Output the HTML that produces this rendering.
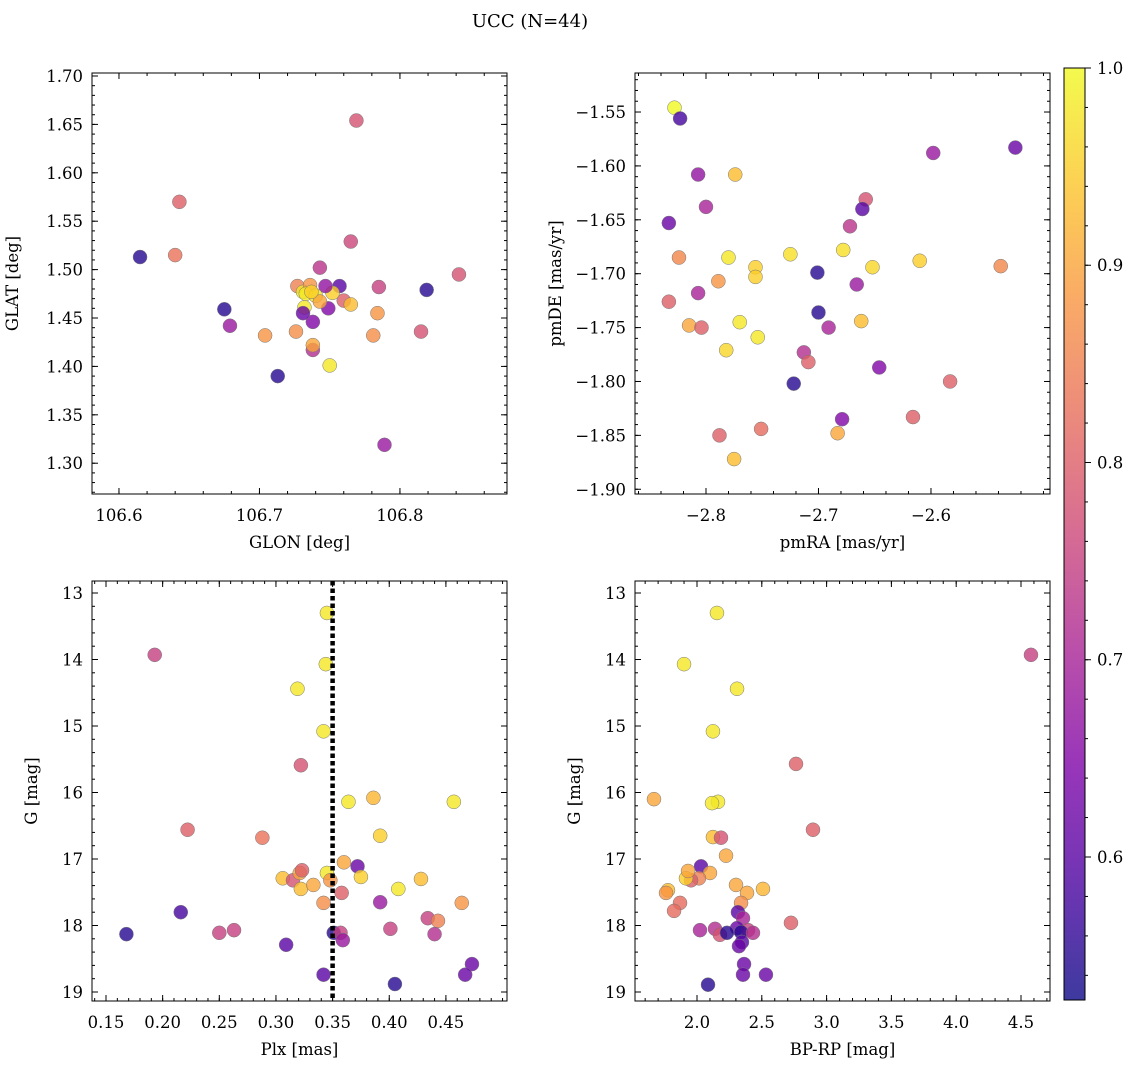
<!DOCTYPE html>
<html><head><meta charset="utf-8"><style>
body{margin:0;background:#fff;}
svg{display:block;font-family:"DejaVu Serif","Liberation Serif",serif;}
</style></head><body>
<svg id="fig" width="1136" height="1068" viewBox="0 0 1136 1068">
<text x="530" y="27" font-size="18" text-anchor="middle">UCC (N=44)</text>
</svg>
<script>
// Panel 1: GLON vs GLAT
const glon1 = [106.615,106.643,106.640,106.769,106.675,106.679,106.704,106.713,106.726,106.743,106.765,106.842,106.819,106.789,106.815,106.785,106.784,106.781,106.750,106.738,106.738,106.757,106.760,106.765,106.752,106.749,106.747,106.738,106.727,106.731,106.736,106.733,106.740,106.732,106.743,106.737,106.731];
const glat1 = [1.513,1.570,1.515,1.654,1.459,1.442,1.432,1.390,1.436,1.502,1.529,1.495,1.479,1.319,1.436,1.482,1.455,1.432,1.401,1.417,1.422,1.483,1.468,1.464,1.476,1.460,1.483,1.446,1.483,1.477,1.484,1.475,1.473,1.461,1.467,1.477,1.455];
const c1 = [0.55,0.80,0.83,0.78,0.55,0.68,0.88,0.55,0.87,0.73,0.76,0.78,0.55,0.68,0.78,0.75,0.88,0.87,0.98,0.72,0.90,0.60,0.80,0.93,0.95,0.65,0.67,0.65,0.85,0.98,0.88,0.98,0.98,0.98,0.90,0.95,0.62];
// Panel 2: pmRA vs pmDE
const pmra2 = [-2.828,-2.823,-2.833,-2.807,-2.800,-2.824,-2.833,-2.815,-2.807,-2.804,-2.789,-2.774,-2.780,-2.770,-2.756,-2.756,-2.782,-2.788,-2.775,-2.751,-2.754,-2.725,-2.713,-2.709,-2.701,-2.700,-2.722,-2.691,-2.678,-2.672,-2.666,-2.658,-2.661,-2.652,-2.662,-2.646,-2.679,-2.683,-2.616,-2.610,-2.598,-2.583,-2.538,-2.525];
const pmde2 = [-1.546,-1.556,-1.653,-1.608,-1.638,-1.685,-1.726,-1.748,-1.718,-1.750,-1.707,-1.608,-1.685,-1.745,-1.694,-1.703,-1.771,-1.850,-1.872,-1.844,-1.759,-1.682,-1.773,-1.782,-1.699,-1.736,-1.802,-1.750,-1.678,-1.656,-1.710,-1.631,-1.640,-1.694,-1.744,-1.787,-1.835,-1.848,-1.833,-1.688,-1.588,-1.800,-1.693,-1.583];
const c2 = [1.0,0.58,0.62,0.67,0.70,0.86,0.80,0.90,0.70,0.80,0.88,0.93,0.98,0.98,0.95,0.95,0.96,0.80,0.93,0.82,0.98,0.97,0.72,0.80,0.55,0.55,0.55,0.70,0.97,0.73,0.68,0.78,0.60,0.96,0.93,0.65,0.65,0.90,0.80,0.95,0.68,0.80,0.86,0.62];
// Panel 3: Plx vs G
const plx3 = [0.193,0.222,0.288,0.216,0.168,0.250,0.263,0.309,0.306,0.315,0.321,0.322,0.333,0.323,0.319,0.322,0.344,0.345,0.342,0.342,0.342,0.345,0.348,0.351,0.357,0.359,0.358,0.364,0.360,0.372,0.375,0.386,0.392,0.392,0.401,0.408,0.405,0.428,0.434,0.443,0.440,0.457,0.464,0.473,0.467];
const g3 = [13.93,16.56,16.68,17.80,18.13,18.11,18.07,18.29,17.29,17.32,17.21,17.45,17.39,17.17,14.44,15.59,14.07,13.30,15.08,17.66,18.74,17.21,17.32,18.11,18.11,18.22,17.51,16.14,17.05,17.11,17.27,16.08,16.65,17.65,18.05,17.45,18.88,17.30,17.89,17.93,18.13,16.14,17.66,18.58,18.74];
const c3 = [0.75,0.80,0.83,0.58,0.55,0.75,0.75,0.60,0.93,0.78,0.90,0.93,0.90,0.80,0.98,0.78,0.98,0.98,0.98,0.87,0.60,0.98,0.88,0.55,0.75,0.68,0.80,0.98,0.90,0.62,0.95,0.92,0.95,0.68,0.75,0.98,0.55,0.93,0.75,0.85,0.72,0.98,0.88,0.62,0.62];
const plxLine = [0.35];
// Panel 4: BP-RP vs G
const bprp4 = [2.154,1.900,2.309,1.668,4.577,2.764,2.895,2.123,2.162,2.116,2.123,2.185,2.224,2.031,2.100,2.015,1.954,1.915,1.776,1.761,1.869,1.823,1.931,2.301,2.509,2.386,2.340,2.316,2.355,2.309,2.139,2.394,2.177,2.231,2.340,2.347,2.324,2.432,2.363,2.355,2.532,2.725,2.023,2.085];
const g4 = [13.30,14.07,14.44,16.10,13.93,15.57,16.56,15.08,16.14,16.16,16.67,16.68,16.95,17.11,17.21,17.29,17.32,17.29,17.47,17.51,17.66,17.78,17.18,17.39,17.45,17.51,17.66,17.80,17.89,18.04,18.05,18.07,18.14,18.11,18.10,18.25,18.31,18.11,18.58,18.74,18.74,17.96,18.07,18.89];
const c4 = [0.98,0.98,0.98,0.90,0.75,0.80,0.80,0.98,0.98,0.98,0.93,0.78,0.90,0.60,0.90,0.85,0.80,0.95,0.93,0.88,0.82,0.82,0.90,0.90,0.92,0.90,0.87,0.60,0.70,0.62,0.72,0.75,0.78,0.55,0.55,0.60,0.62,0.72,0.62,0.62,0.62,0.80,0.70,0.55];
// tick label arrays
const ticksX1 = [106.6,106.7,106.8], ticksY1 = [1.30,1.35,1.40,1.45,1.50,1.55,1.60,1.65,1.70];
const ticksX2 = [-2.8,-2.7,-2.6], ticksY2 = [-1.90,-1.85,-1.80,-1.75,-1.70,-1.65,-1.60,-1.55];
const ticksX3 = [0.15,0.20,0.25,0.30,0.35,0.40,0.45], ticksG = [13,14,15,16,17,18,19];
const ticksX4 = [2.0,2.5,3.0,3.5,4.0,4.5];
const cbTicks = [0.6,0.7,0.8,0.9,1.0];
const cmin = 0.5275, cmax = 1.0;

const NS = "http://www.w3.org/2000/svg";
const svg = document.getElementById('fig');
const FS = 16.5;
function mk(tag, attrs, parent){const e=document.createElementNS(NS,tag);for(const k in attrs)e.setAttribute(k,attrs[k]);(parent||svg).appendChild(e);return e;}
const stops=[[13,8,135],[76,2,161],[126,3,168],[169,35,149],[204,71,120],[230,108,92],[248,149,64],[253,197,39],[240,249,33]];
function plasma(t){t=Math.max(0,Math.min(1,t));const f=t*8,i=Math.min(7,Math.floor(f)),r=f-i;const a=stops[i],b=stops[i+1];return 'rgb('+a.map((v,k)=>Math.round(v+(b[k]-v)*r)).join(',')+')';}
function fmt(v,d){return (v<0?'\u2212':'')+Math.abs(v).toFixed(d);}

function panel(name,box,xr,yr,xt,yt,xd,yd,xlab,ylab,xs,ys,cs,minorX,minorY){
  const [L,T,R,B]=box;
  const sx=v=>L+(v-xr[0])/(xr[1]-xr[0])*(R-L);
  const sy=v=>T+(v-yr[0])/(yr[1]-yr[0])*(B-T);
  const g=mk('g',{});
  
  
  const pts=mk('g',{},g);
  
  
  for(let i=0;i<xs.length;i++){
    const c=mk('circle',{cx:sx(xs[i]),cy:sy(ys[i]),r:7,fill:plasma((cs[i]-cmin)/(cmax-cmin)),'fill-opacity':0.8,stroke:'#777','stroke-width':0.5},pts);
    
    
  }
  mk('rect',{x:L,y:T,width:R-L,height:B-T,fill:'none',stroke:'#000','stroke-width':1},g);
  const xlo=Math.min(...xr),xhi=Math.max(...xr),ylo=Math.min(...yr),yhi=Math.max(...yr);
  for(let v=Math.ceil(xlo/minorX)*minorX;v<=xhi;v+=minorX){const x=sx(v);mk('line',{x1:x,x2:x,y1:B,y2:B-3,stroke:'#000'},g);mk('line',{x1:x,x2:x,y1:T,y2:T+3,stroke:'#000'},g);}
  for(let v=Math.ceil(ylo/minorY)*minorY;v<=yhi;v+=minorY){const y=sy(v);mk('line',{x1:L,x2:L+3,y1:y,y2:y,stroke:'#000'},g);mk('line',{x1:R,x2:R-3,y1:y,y2:y,stroke:'#000'},g);}
  xt.forEach(v=>{const x=sx(v);mk('line',{x1:x,x2:x,y1:B,y2:B-6,stroke:'#000'},g);mk('line',{x1:x,x2:x,y1:T,y2:T+6,stroke:'#000'},g);
    const t=mk('text',{x:x,y:B+27,'font-size':FS,'text-anchor':'middle'},g);t.textContent=fmt(v,xd);
    
    });
  yt.forEach(v=>{const y=sy(v);mk('line',{x1:L,x2:L+6,y1:y,y2:y,stroke:'#000'},g);mk('line',{x1:R,x2:R-6,y1:y,y2:y,stroke:'#000'},g);
    const t=mk('text',{x:L-9,y:y+6,'font-size':FS,'text-anchor':'end'},g);t.textContent=fmt(v,yd);
    
    });
  const xl=mk('text',{x:(L+R)/2,y:B+54,'font-size':FS,'text-anchor':'middle'},g);xl.textContent=xlab;
  
  
  const yx=L-(name==='p1'||name==='p2'?74:55);
  const yl=mk('text',{x:yx,y:(T+B)/2,'font-size':FS,'text-anchor':'middle',transform:'rotate(-90 '+yx+' '+(T+B)/2+')'},g);yl.textContent=ylab;
  
  
  return {sx,sy,g};
}
panel('p1',[92,73,507,494],[106.5808,106.8762],[1.7031,1.2682],ticksX1,ticksY1,1,2,'GLON [deg]','GLAT [deg]',glon1,glat1,c1,0.02,0.01);
panel('p2',[635,73,1050,494],[-2.8631,-2.4942],[-1.5138,-1.9044],ticksX2,ticksY2,1,2,'pmRA [mas/yr]','pmDE [mas/yr]',pmra2,pmde2,c2,0.02,0.01);
const p3=panel('p3',[92,581,507,1001],[0.13764,0.50393],[12.8195,19.1353],ticksX3,ticksG,2,0,'Plx [mas]','G [mag]',plx3,g3,c3,0.01,0.2);
plxLine.forEach(v=>{const l=mk('line',{x1:p3.sx(v),x2:p3.sx(v),y1:581,y2:1001,stroke:'#000','stroke-width':4.5,'stroke-dasharray':'4.5,3'},p3.g);
  
  });
panel('p4',[635,581,1050,1001],[1.5216,4.7238],[12.8195,19.1353],ticksX4,ticksG,1,0,'BP-RP [mag]','G [mag]',bprp4,g4,c4,0.1,0.2);

const cbL=1064,cbR=1085,cbT=68,cbB=1000;
const cb=mk('g',{});


const defs=mk('defs',{},cb);const lg=mk('linearGradient',{id:'cbg',x1:0,y1:1,x2:0,y2:0},defs);
for(let i=0;i<=20;i++){const t=i/20;mk('stop',{offset:t,'stop-color':plasma(t),'stop-opacity':0.8},lg);}
mk('rect',{x:cbL,y:cbT,width:cbR-cbL,height:cbB-cbT,fill:'url(#cbg)',stroke:'#000'},cb);
const cy=v=>cbB-(v-cmin)/(cmax-cmin)*(cbB-cbT);
for(let v=0.54;v<=1.0001;v+=0.02){mk('line',{x1:cbR,x2:cbR+3,y1:cy(v),y2:cy(v),stroke:'#000'},cb);}
cbTicks.forEach(v=>{mk('line',{x1:cbR,x2:cbR+6,y1:cy(v),y2:cy(v),stroke:'#000'},cb);
  const t=mk('text',{x:cbR+12,y:cy(v)+6,'font-size':FS},cb);t.textContent=v.toFixed(1);
  
  });
</script>
</body></html>
